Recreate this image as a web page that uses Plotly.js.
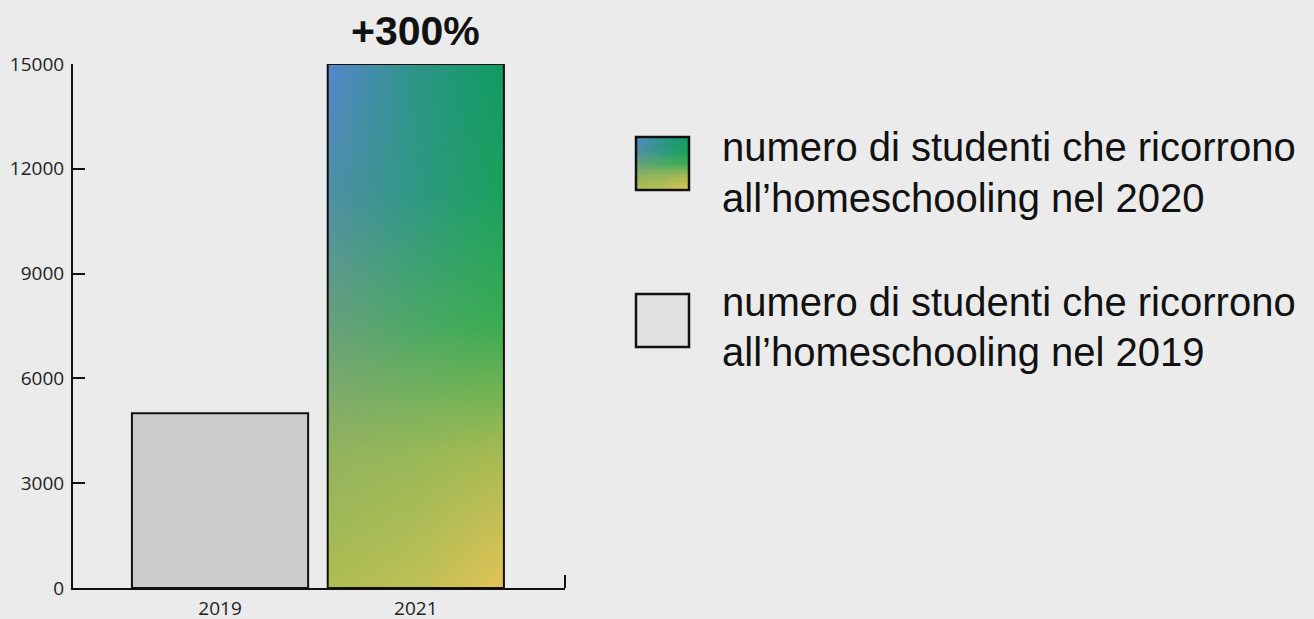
<!DOCTYPE html>
<html>
<head>
<meta charset="utf-8">
<script src="https://cdn.plot.ly/plotly-3.0.1.min.js"></script>
<style>html,body{margin:0;padding:0;background:#ebebeb;}#chart{width:1314px;height:619px;}</style>
</head>
<body>
<div id="chart"></div>
<script>
// ---- data ----
const years = ['2019', '2021'];
const students = [5000, 15000];
const yTickValues = [0, 3000, 6000, 9000, 12000, 15000];
const changeLabel = '+300%';
const legendLine1 = ['numero di studenti che ricorrono', 'numero di studenti che ricorrono'];
const legendLine2 = ['all\u2019homeschooling nel 2020', 'all\u2019homeschooling nel 2019'];

// ---- style ----
const W = 1314, H = 619;
const M = {l: 73, r: 0, t: 64, b: 31};
const plotW = W - M.l - M.r, plotH = H - M.t - M.b;
const px2x = p => (p - M.l) / plotW;
const px2y = p => (H - M.b - p) / plotH;
const barWidth = 0.9;
const ink = '#111111';

// gradient control grid (rows bottom -> top, cols left -> mid -> right)
const gradRows = [0, 0.25, 0.5, 0.75, 1];
const gradGrid = [
  ['#adbd52', '#bec055', '#e5c256'],
  ['#93b35e', '#98b857', '#a9bb52'],
  ['#68a07c', '#4ca866', '#3aac52'],
  ['#4f8fa6', '#2f9884', '#1aa15a'],
  ['#5686cc', '#2e9488', '#0f9b62']
];
const hex = h => [parseInt(h.slice(1,3),16), parseInt(h.slice(3,5),16), parseInt(h.slice(5,7),16)];
const gridRGB = gradGrid.map(r => r.map(hex));
function lerp(a, b, t) { return a.map((v, i) => v + (b[i] - v) * t); }
function colorAt(u, v) {
  let ri = 0;
  while (ri < gradRows.length - 2 && v > gradRows[ri + 1]) ri++;
  const tv = (v - gradRows[ri]) / (gradRows[ri + 1] - gradRows[ri]);
  const rowColor = r => (u <= 0.5 ? lerp(gridRGB[r][0], gridRGB[r][1], u / 0.5) : lerp(gridRGB[r][1], gridRGB[r][2], (u - 0.5) / 0.5));
  return lerp(rowColor(ri), rowColor(ri + 1), tv).map(Math.round);
}
function gradientZ(nx, ny) {
  const z = [];
  for (let j = 0; j < ny; j++) {
    const row = [];
    for (let i = 0; i < nx; i++) row.push(colorAt((i + 0.5) / nx, (j + 0.5) / ny));
    z.push(row);
  }
  return z;
}

const xIdx = years.map((_, i) => i);
const hi = students.length - 1;
const nx = 60, ny = 180;
const xL = xIdx[hi] - barWidth / 2;

const traces = [
  {
    type: 'image',
    z: gradientZ(nx, ny),
    x0: xL + barWidth / nx / 2, dx: barWidth / nx,
    y0: students[hi] / ny / 2, dy: students[hi] / ny,
    zsmooth: 'fast',
    hoverinfo: 'skip',
    xaxis: 'x', yaxis: 'y'
  },
  {
    type: 'bar',
    x: xIdx,
    y: students,
    width: barWidth,
    marker: {color: ['#cccccc', 'rgba(0,0,0,0)'], line: {color: ink, width: 2}},
    hoverinfo: 'x+y',
    xaxis: 'x', yaxis: 'y'
  },
  {
    type: 'image',
    z: gradientZ(20, 20),
    x0: 0.025, dx: 0.05, y0: 0.025, dy: 0.05,
    zsmooth: 'fast',
    hoverinfo: 'skip',
    xaxis: 'x2', yaxis: 'y2'
  }
];

const legSize = 53;
const legX0 = 636;
const legY0 = [137, 294];

const annotations = [
  {
    x: xIdx[hi], y: students[hi], xref: 'x', yref: 'y',
    text: changeLabel, showarrow: false, yanchor: 'bottom', yshift: 9, borderpad: 0,
    font: {family: 'Liberation Sans, Arial, sans-serif', size: 41, weight: 'bold', color: ink}
  }
];
const fs = 40;
const base1 = [162, 317], base2 = [213, 367];
for (let k = 0; k < 2; k++) {
  annotations.push({
    x: px2x(721), y: px2y(base1[k] + 0.212 * fs), xref: 'paper', yref: 'paper',
    xanchor: 'left', yanchor: 'bottom', borderpad: 0, showarrow: false,
    text: legendLine1[k], font: {family: 'Liberation Sans, Arial, sans-serif', size: fs, color: ink}
  });
  annotations.push({
    x: px2x(721), y: px2y(base2[k] + 0.212 * fs), xref: 'paper', yref: 'paper',
    xanchor: 'left', yanchor: 'bottom', borderpad: 0, showarrow: false,
    text: legendLine2[k], font: {family: 'Liberation Sans, Arial, sans-serif', size: fs, color: ink}
  });
}

const shapes = [
  // small end tick on the x axis
  {type: 'line', xref: 'x domain', x0: 1, x1: 1, yref: 'y', ysizemode: 'pixel', yanchor: 0, y0: 0, y1: 13,
   line: {color: ink, width: 2}},
  // legend swatch borders
  {type: 'rect', xref: 'x2 domain', yref: 'y2 domain', x0: 0, x1: 1, y0: 0, y1: 1,
   line: {color: ink, width: 2.5}, fillcolor: 'rgba(0,0,0,0)'},
  {type: 'rect', xref: 'paper', yref: 'paper', x0: px2x(legX0), x1: px2x(legX0 + legSize),
   y0: px2y(legY0[1] + legSize), y1: px2y(legY0[1]),
   line: {color: ink, width: 2.5}, fillcolor: '#e1e1e1'}
];

const layout = {
  width: W, height: H,
  margin: M,
  paper_bgcolor: '#ebebeb',
  plot_bgcolor: '#ebebeb',
  showlegend: false,
  xaxis: {
    domain: [0, (565 - M.l) / plotW],
    range: [-0.751, 1.762],
    tickvals: xIdx, ticktext: years,
    showgrid: false, zeroline: false,
    showline: true, linecolor: ink, linewidth: 2,
    ticks: '', ticklabelstandoff: 2,
    tickfont: {family: 'Open Sans, sans-serif', size: 19, color: '#222'},
    fixedrange: true
  },
  yaxis: {
    range: [0, 15000], autorange: false, scaleanchor: false,
    tickvals: yTickValues, ticktext: yTickValues.map(String),
    showgrid: false, zeroline: false,
    showline: true, linecolor: ink, linewidth: 2,
    ticks: 'inside', ticklen: 12, tickwidth: 2, tickcolor: ink,
    ticklabelstandoff: 3,
    tickfont: {family: 'Open Sans, sans-serif', size: 19, color: '#222'},
    fixedrange: true
  },
  xaxis2: {
    domain: [px2x(legX0), px2x(legX0 + legSize)], anchor: 'y2',
    range: [0, 1], visible: false, fixedrange: true
  },
  yaxis2: {
    domain: [px2y(legY0[0] + legSize), px2y(legY0[0])], anchor: 'x2',
    range: [0, 1], autorange: false, scaleanchor: false, visible: false, fixedrange: true
  },
  annotations: annotations,
  shapes: shapes
};

Plotly.newPlot('chart', traces, layout, {displayModeBar: false, staticPlot: true});
</script>
</body>
</html>
